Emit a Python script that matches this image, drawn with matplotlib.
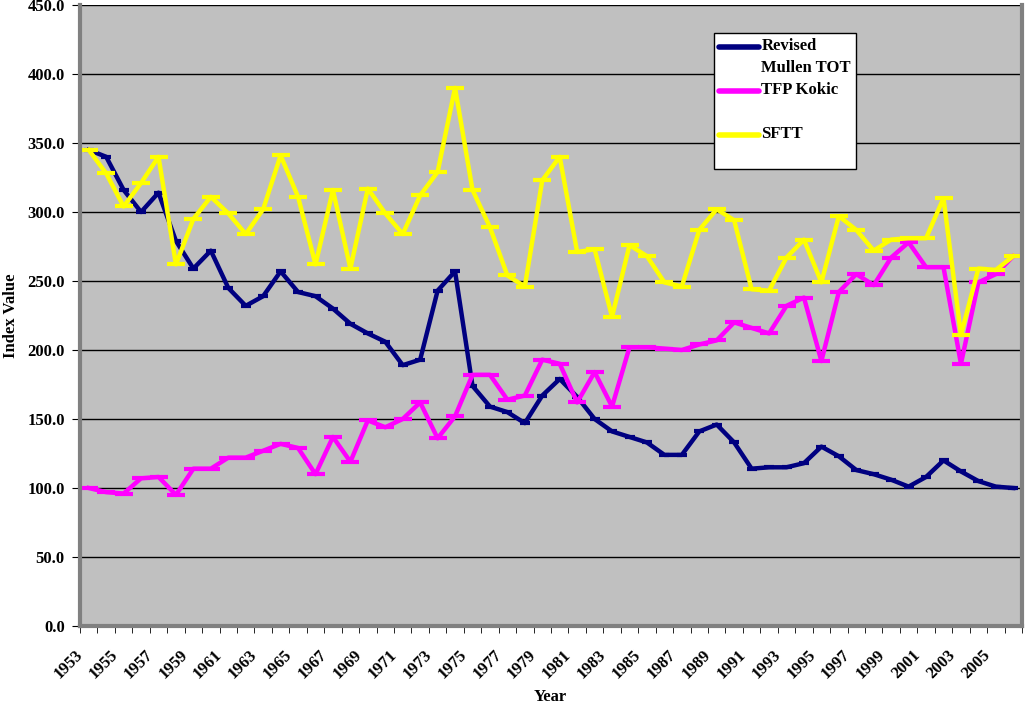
import numpy as np
import matplotlib
matplotlib.use("Agg")
import matplotlib.pyplot as plt
from matplotlib.lines import Line2D
from matplotlib.legend_handler import HandlerLine2D
from matplotlib.transforms import ScaledTranslation

# Data
years = list(range(1953, 2007))

mullen_tot = [345, 340, 316, 300, 314, 279, 259, 272, 245, 232, 239, 257, 242, 239, 230, 219,
              212, 206, 189, 193, 243, 257, 174, 159, 155, 147, 167, 179, 166, 150, 141, 137,
              133, 124, 124, 141, 146, 133, 114, 115, 115, 118, 130, 123, 113, 110, 106, 101,
              108, 120, 112, 105, 101, 100]

tfp_kokic = [100, 97, 96, 107, 108, 95, 114, 114, 122, 122, 127, 132, 129, 110, 137, 119,
             149, 144, 150, 162, 136, 152, 182, 182, 164, 167, 193, 190, 162, 184, 159, 202,
             202, 201, 200, 204, 207, 220, 216, 212, 232, 238, 192, 242, 255, 247, 267, 278,
             260, 260, 190, 249, 255, 268]

sftt = [345, 328, 304, 321, 340, 262, 295, 311, 299, 284, 302, 341, 311, 262, 316, 259,
        317, 299, 284, 312, 329, 390, 316, 289, 254, 246, 323, 340, 271, 273, 224, 276,
        268, 249, 246, 287, 302, 294, 244, 243, 267, 280, 249, 297, 287, 272, 280, 281,
        281, 310, 211, 259, 258, 268]

series_names = ["Revised\nMullen TOT", "TFP Kokic\n ", "SFTT\n "]
series_colors = ["#000080", "#FF00FF", "#FFFF00"]

plt.rcParams['font.family'] = ['Liberation Serif', 'DejaVu Serif']
plt.rcParams['font.weight'] = 'bold'
FS = 12

fig = plt.figure(figsize=(10.26, 7.08), dpi=100)
ax = fig.add_axes([80/1026, 1 - 626/708, 942/1026, 621/708])
ax.set_facecolor("#C0C0C0")

x = np.arange(len(years))
all_series = [mullen_tot, tfp_kokic, sftt]
marker_sizes = [7, 13, 13]
for vals, col, ms in zip(all_series, series_colors, marker_sizes):
    ax.plot(x, vals, color=col, lw=3.2, marker='_', ms=ms, mew=3, solid_joinstyle='round')

ax.set_xlim(-0.5, len(years) - 0.5)
ax.set_ylim(0, 450)

# y axis
ax.set_yticks(np.arange(0, 451, 50))
ax.set_yticklabels([f"{v:.1f}" for v in np.arange(0, 451, 50)], fontsize=FS, fontweight='bold')
ax.yaxis.grid(True, color='black', lw=1)
ax.set_axisbelow(True)
ax.tick_params(axis='y', length=6, direction='out', pad=5)

# x axis: tick marks at category boundaries, labels every other year
ax.set_xticks(np.arange(-0.5, len(years), 1), minor=True)
ax.set_xticks(x[::2])
ax.set_xticklabels([str(y) for y in years[::2]], rotation=45, ha='right', va='top',
                   rotation_mode='anchor', fontsize=FS, fontweight='bold')
ax.tick_params(axis='x', which='major', length=0, pad=15)
ax.tick_params(axis='x', which='minor', length=5, direction='out')
shift = ScaledTranslation(-0.14, 0, fig.dpi_scale_trans)
for lab in ax.get_xticklabels():
    lab.set_transform(lab.get_transform() + shift)

for side in ['left', 'bottom', 'right']:
    ax.spines[side].set_color('#808080')
    ax.spines[side].set_linewidth(3)
ax.spines['top'].set_visible(False)

ax.set_ylabel("Index Value", fontsize=FS, fontweight='bold', labelpad=6)
fig.text(550/1026, 1 - 697/708, "Year", ha='center', va='center', fontsize=FS, fontweight='bold')


class UpHandler(HandlerLine2D):
    def create_artists(self, legend, orig_handle, xdescent, ydescent, width, height, fontsize, trans):
        arts = super().create_artists(legend, orig_handle, xdescent, ydescent, width, height, fontsize, trans)
        for a in arts:
            a.set_ydata(np.asarray(a.get_ydata()) + 0.62 * fontsize)
        return arts


handles = [Line2D([], [], color=c, lw=4, solid_capstyle='round') for c in series_colors]
leg = ax.legend(handles, series_names, loc='upper left', bbox_to_anchor=(0.673, 0.955),
                borderaxespad=0, fancybox=False, edgecolor='black', framealpha=1,
                prop={'family': 'Liberation Serif', 'weight': 'bold', 'size': FS},
                handlelength=2.4, handletextpad=0.15, labelspacing=0.36, borderpad=0.3,
                handler_map={Line2D: UpHandler()})
leg.get_frame().set_linewidth(1)
for t in leg.get_texts():
    t.set_linespacing(1.5)

fig.savefig("out.png", dpi=100)
